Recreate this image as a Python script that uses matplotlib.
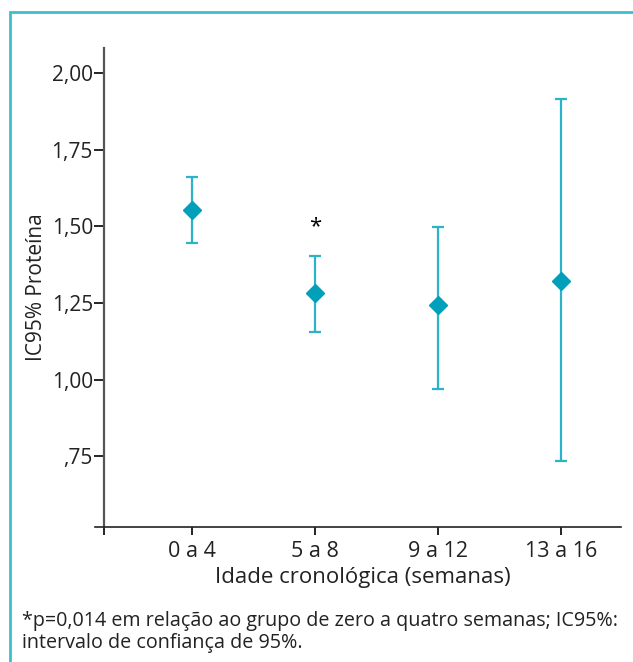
import matplotlib.pyplot as plt
from matplotlib.patches import Rectangle
import numpy as np

groups = ["0 a 4", "5 a 8", "9 a 12", "13 a 16"]
mean = [1.553, 1.283, 1.244, 1.322]
lower = [1.446, 1.156, 0.970, 0.734]
upper = [1.661, 1.403, 1.498, 1.915]
yticks = [0.75, 1.00, 1.25, 1.50, 1.75, 2.00]
ytick_labels = [",75", "1,00", "1,25", "1,50", "1,75", "2,00"]
footnote = ("*p=0,014 em relação ao grupo de zero a quatro semanas; IC95%:\n"
            "intervalo de confiança de 95%.")

plt.rcParams['font.family'] = ['Open Sans', 'DejaVu Sans']

fig = plt.figure(figsize=(6.33, 6.62), dpi=100)
ax = fig.add_axes([104 / 633, 1 - 527 / 662, 517 / 633, 479 / 662])

x = np.arange(len(groups))
mean = np.array(mean)
err = [mean - np.array(lower), np.array(upper) - mean]

ax.errorbar(x, mean, yerr=err, fmt='none', ecolor='#2db3c8', elinewidth=1.6,
            capsize=4, capthick=1.6)
ax.plot(x, mean, 'D', color='#00a0ba', markersize=9, linestyle='none')

# asterisk over the 5 a 8 group
ax.text(x[1], upper[1] + 0.095, "*", ha='center', va='center', fontsize=16)

ax.set_xlim(-0.715, 3.49)
ax.set_ylim(0.52, 2.082)

ax.set_yticks(yticks)
ax.set_yticklabels(ytick_labels, fontsize=15, color='#222222')
ax.set_xticks(np.concatenate([[-0.715], x]))
ax.set_xticklabels([""] + groups, fontsize=15.5, color='#222222')
ax.tick_params(axis='y', direction='out', length=7, width=1.2, pad=1)
ax.tick_params(axis='x', direction='out', length=6, width=1.2, pad=4)

for s in ['top', 'right']:
    ax.spines[s].set_visible(False)
ax.spines['left'].set_color('#555555')
ax.spines['left'].set_linewidth(1.6)
ax.spines['bottom'].set_color('#222222')
ax.spines['bottom'].set_linewidth(1.2)
ax.spines['bottom'].set_bounds(-0.79, 3.49)

ax.set_ylabel("IC95% Proteína", fontsize=15, color='#222222', labelpad=3)
ax.set_xlabel("Idade cronológica (semanas)", fontsize=16, color='#222222', labelpad=4)

fig.text(22 / 633, 1 - 611 / 662, footnote, fontsize=14.2, color='#222222',
         va='top', ha='left', linespacing=1.15)

fig.patches.append(Rectangle((10 / 633, -0.1), 1.2, 1.1 - 12 / 662,
                             transform=fig.transFigure, fill=False,
                             edgecolor='#3bbfd0', linewidth=2))

fig.savefig("out.png", dpi=100)
